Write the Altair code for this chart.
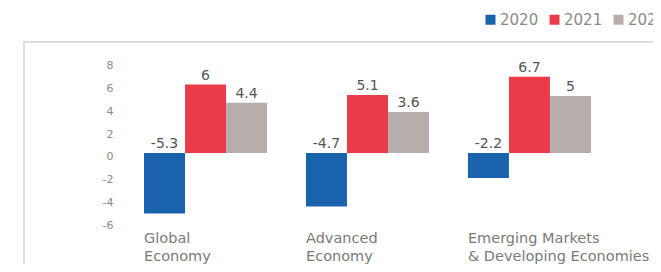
import altair as alt
import pandas as pd

categories = ["Global|Economy", "Advanced|Economy", "Emerging Markets|& Developing Economies"]
years = ["2020", "2021", "2022"]
values_2020 = [-5.3, -4.7, -2.2]
values_2021 = [6, 5.1, 6.7]
values_2022 = [4.4, 3.6, 5]
colors = ["#1a62ab", "#ea3b49", "#b7adab"]
y_ticks = [8, 6, 4, 2, 0, -2, -4, -6]

rows = []
for yr, vals in zip(years, [values_2020, values_2021, values_2022]):
    for c, v in zip(categories, vals):
        rows.append({"cat": c, "year": yr, "value": v, "label": f"{v:g}"})
df = pd.DataFrame(rows)

FONT = "DejaVu Sans"

x = alt.X(
    "cat:N",
    sort=categories,
    title=None,
    scale=alt.Scale(paddingInner=0.24, paddingOuter=0.741),
    axis=alt.Axis(
        orient="bottom",
        labelAlign="left",
        labelBaseline="top",
        labelExpr="split(datum.label, '|')",
        labelLineHeight=18,
        labelFontSize=14.5,
        labelColor="#7a7a7a",
        labelFont=FONT,
        labelPadding=4,
        labelOffset=-61.5,
        labelBound=False,
        labelOverlap=False,
        labelLimit=400,
        offset=-42,
        ticks=False,
        domain=False,
        labelAngle=0,
    ),
)
y_scale = alt.Scale(domain=[-10.18, 9.74], nice=False, zero=False)
xo = alt.XOffset("year:N", sort=years, scale=alt.Scale(paddingInner=0, paddingOuter=0))

bars = alt.Chart(df).mark_bar(size=41).encode(
    x=x,
    xOffset=xo,
    y=alt.Y(
        "value:Q",
        scale=y_scale,
        title=None,
        axis=alt.Axis(
            values=y_ticks,
            labelExpr="'' + datum.value",
            labelOverlap=False,
            offset=-91,
            labelPadding=2,
            labelOffset=4,
            ticks=False,
            domain=False,
            grid=False,
            labelFontSize=11,
            labelColor="#8a8a8a",
            labelFont=FONT,
        ),
    ),
    color=alt.Color(
        "year:N",
        sort=years,
        scale=alt.Scale(domain=years, range=colors),
        legend=alt.Legend(
            title=None,
            orient="none",
            direction="horizontal",
            legendX=459,
            legendY=-30,
            symbolType="square",
            symbolSize=100,
            symbolStrokeWidth=0,
            labelFontSize=15,
            labelColor="#8a8a8a",
            labelFont=FONT,
            labelOffset=2,
            columnPadding=8,
            padding=0,
        ),
    ),
)

labels = alt.Chart(df).transform_calculate(
    ypos="max(datum.value, 0)"
).mark_text(baseline="middle", dy=-9, fontSize=14, color="#555555", font=FONT).encode(
    x=alt.X("cat:N", sort=categories, axis=None),
    xOffset=xo,
    y=alt.Y("ypos:Q", scale=y_scale, axis=None),
    text=alt.Text("label:N"),
)

chart = (
    alt.layer(bars, labels)
    .resolve_axis(x="independent", y="independent")
    .properties(
        width=687,
        height=227,
        autosize=alt.AutoSizeParams(type="none"),
        padding={"left": 16, "top": 34, "right": -58, "bottom": -5},
    )
    .configure_view(stroke="#dddddd", strokeWidth=2)
)

chart.save("out.html", embed_options={"renderer": "svg", "actions": False})
